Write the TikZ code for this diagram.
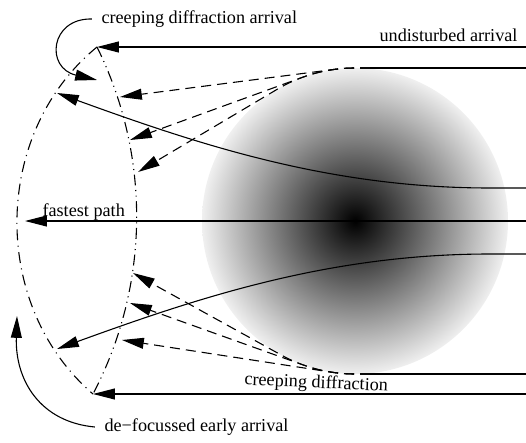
\documentclass[tikz,border=0pt]{standalone}
\usepackage{fontspec}
\setmainfont{Liberation Serif}
\usetikzlibrary{arrows.meta,calc}
\pgfdeclareradialshading{earth}{\pgfpointorigin}{color(0bp)=(black); color(25bp)=(black!6); color(50bp)=(black!6)}

\begin{document}
\begin{tikzpicture}[x=0.55pt, y=-0.55pt, line width=0.6pt,
    ray/.style={-{Triangle[length=12pt,width=6pt]}},
    creep/.style={ray, dash pattern=on 5.5pt off 3.3pt},
    front/.style={dash pattern=on 6pt off 3pt on 0.6pt off 3pt},
    front2/.style={dash pattern=on 6pt off 2.5pt on 0.6pt off 2.5pt on 0.6pt off 2.5pt},
    lbl/.style={inner sep=0pt}]
  \useasboundingbox (0,0) rectangle (526,443);

  % the anomaly
  \coordinate (core) at (355,221);
  \shade[shading=earth] (core) circle[radius=153];

  % wavefronts
  \coordinate (top) at (97,47);
  \coordinate (bot) at (93,394);
  \draw[front] (top) to[bend right=50] (bot);
  \draw[front2] (top) to[bend left=27, looseness=0.9] (bot);

  % arrival points
  \coordinate (tipN) at (57,93);
  \coordinate (tipS) at (57,349);
  \coordinate (tipF) at (25,221);
  \coordinate (t1) at (120,97);
  \coordinate (t2) at (130,140);
  \coordinate (t3) at (138,172);
  \coordinate (b1) at (133,273);
  \coordinate (b2) at (130,303);
  \coordinate (b3) at (122,340);

  % rays
  \draw[ray] (526,47) -- (top);
  \draw[ray] (526,394) -- (bot);
  \draw[ray] (526,221) -- (tipF);
  \draw[ray] (526,188) -- (490,188) .. controls (330,188) and (200,145) .. (tipN);
  \draw[ray] (526,254) -- (490,254) .. controls (330,254) and (200,297) .. (tipS);

  % creeping waves round the top and bottom
  \draw (526,68) -- (370,68);
  \draw (526,374) -- (370,374);
  \draw[creep] (370,68) -- (355,68) arc[start angle=-90, end angle=-97.4, radius=153] -- (t1);
  \draw[creep] (370,68) -- (355,68) arc[start angle=-90, end angle=-110, radius=153] -- (t2);
  \draw[creep] (370,68) -- (355,68) arc[start angle=-90, end angle=-120.7, radius=153] -- (t3);
  \draw[creep] (370,374) -- (355,374) arc[start angle=90, end angle=118.9, radius=153] -- (b1);
  \draw[creep] (370,374) -- (355,374) arc[start angle=90, end angle=109.7, radius=153] -- (b2);
  \draw[creep] (370,374) -- (355,374) arc[start angle=90, end angle=98.7, radius=153] -- (b3);

  % labels
  \node[lbl, anchor=west] (arrC) at (101,19) {creeping diffraction arrival};
  \node[lbl, anchor=base east] (undist) at (518,42) {undisturbed arrival};
  \node[lbl, anchor=base west] (fast) at (42,216) {fastest path};
  \node[lbl, anchor=base, rotate=-2.5] (creepLbl) at (316,388) {creeping diffraction};
  \node[lbl, anchor=west] (arrD) at (104,427) {de−focussed early arrival};

  \coordinate (tipC) at (97,80);
  \coordinate (tipD) at (17,316);
  \draw[ray] ([xshift=-5pt]arrC.west) .. controls (50,18) and (45,68) .. (tipC);
  \draw[ray] ([xshift=-5pt]arrD.west) .. controls (40,422) and (15,380) .. (tipD);
\end{tikzpicture}
\end{document}
